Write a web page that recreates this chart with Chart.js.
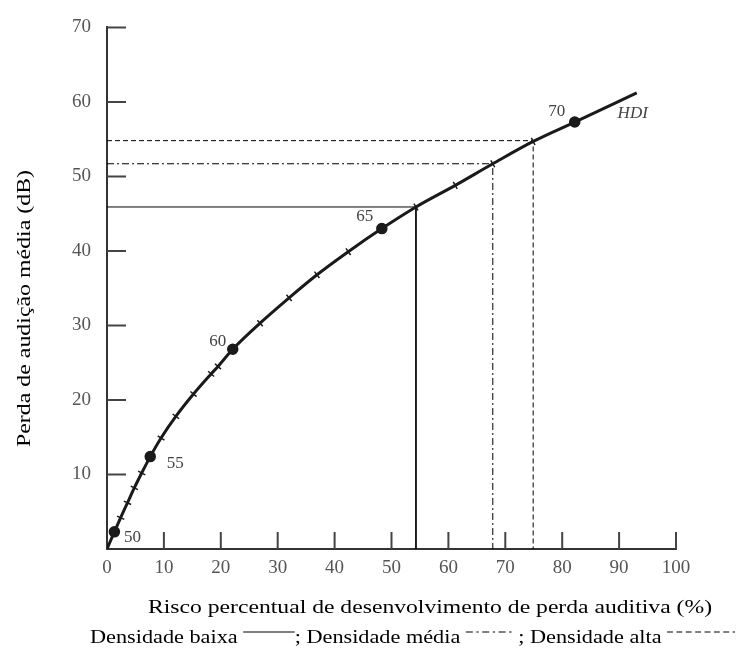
<!DOCTYPE html>
<html>
<head>
<meta charset="utf-8">
<script src="https://cdn.jsdelivr.net/npm/chart.js@4.4.1/dist/chart.umd.min.js"></script>
<style>
  html, body { margin: 0; padding: 0; background: #fff; }
  #wrap { width: 738px; height: 655px; }
</style>
</head>
<body>
<div id="wrap"><canvas id="hdi"></canvas></div>
<script>
// HDI curve: risk (%) vs average hearing loss (dB)
const riskPct     = [0, 1.3, 2.4, 3.6, 4.8, 6.1, 7.6, 9.5, 12.1, 15.2, 18.3, 19.5, 22.1, 26.9, 32.0, 36.9, 42.4, 48.3, 54.3, 61.2, 67.8, 74.9, 82.2, 93.1];
const hearingLoss = [0, 2.3, 4.2, 6.2, 8.2, 10.2, 12.4, 14.9, 17.8, 20.8, 23.5, 24.5, 26.8, 30.3, 33.7, 36.8, 39.9, 43.0, 45.9, 48.8, 51.7, 54.7, 57.3, 61.2];
const markKind    = ['none', 'dot', 'x', 'x', 'x', 'x', 'dot', 'x', 'x', 'x', 'x', 'x', 'dot', 'x', 'x', 'x', 'x', 'dot', 'x', 'x', 'x', 'x', 'dot', 'none'];

// HDI levels labelled on the curve
const levelIdx    = [1, 6, 12, 17, 22];
const levelLabels = ['50', '55', '60', '65', '70'];

// reading lines [risk %, loss dB] for each density
const lowDensity  = [54.3, 45.9];
const midDensity  = [67.8, 51.7];
const highDensity = [74.9, 54.8];

const xTicks = [0, 10, 20, 30, 40, 50, 60, 70, 80, 90, 100];
const yTicks = [10, 20, 30, 40, 50, 60, 70];

const serif = '"Liberation Serif", "Times New Roman", serif';
const ink = '#1a1a1a';

function readingLine(p) {
  return [{ x: 0, y: p[1] }, { x: p[0], y: p[1] }, { x: p[0], y: 0 }];
}

const curve = riskPct.map((x, i) => ({ x: x, y: hearingLoss[i] }));

// draw text squeezed/stretched to a given width (source image is a bit wide)
function stretchText(c, text, x, y, w) {
  const nat = c.measureText(text).width;
  c.save();
  c.translate(x, y);
  c.scale(w / nat, 1);
  c.fillText(text, 0, 0);
  c.restore();
}

const decorPlugin = {
  id: 'decor',
  afterDraw(chart) {
    const c = chart.ctx;
    const xs = chart.scales.x, ys = chart.scales.y;
    const area = chart.chartArea;

    // inward tick marks
    c.save();
    c.strokeStyle = '#444';
    c.lineWidth = 2;
    c.beginPath();
    yTicks.forEach(v => {
      const py = ys.getPixelForValue(v);
      c.moveTo(area.left, py); c.lineTo(area.left + 19, py);
    });
    xTicks.slice(1).forEach(v => {
      const px = xs.getPixelForValue(v);
      c.moveTo(px, area.bottom); c.lineTo(px, area.bottom - 17);
    });
    c.stroke();
    c.restore();

    // HDI level labels
    const meta = chart.getDatasetMeta(0);
    const offs = [[18, 6], [25, 7], [-15, -8], [-17, -12], [-18, -11]];
    c.save();
    c.font = '17px ' + serif;
    c.fillStyle = '#444';
    c.textAlign = 'center';
    c.textBaseline = 'middle';
    levelIdx.forEach((idx, k) => {
      const pt = meta.data[idx];
      c.fillText(levelLabels[k], pt.x + offs[k][0], pt.y + offs[k][1]);
    });
    const p70 = meta.data[levelIdx[4]];
    c.font = 'italic 17px ' + serif;
    c.fillText('HDI', p70.x + 58, p70.y - 9);
    c.restore();

    // axis titles
    c.save();
    c.fillStyle = '#000';
    c.font = '19px ' + serif;
    c.textBaseline = 'alphabetic';
    stretchText(c, 'Risco percentual de desenvolvimento de perda auditiva (%)', 148, 613, 564);
    c.translate(30, 447);
    c.rotate(-Math.PI / 2);
    stretchText(c, 'Perda de audição média (dB)', 0, 0, 277);
    c.restore();

    // density key line
    c.save();
    c.fillStyle = '#000';
    c.strokeStyle = '#000';
    c.lineWidth = 1;
    c.font = '19px ' + serif;
    const pieces = [
      { t: 'Densidade baixa ' }, { dash: [], len: 44 },
      { t: '; Densidade média ' }, { dash: [6, 3, 2, 3], len: 40 },
      { t: ' ; Densidade alta ' }, { dash: [5, 3], len: 58 }
    ];
    let nat = 0;
    pieces.forEach(p => { nat += p.t ? c.measureText(p.t).width : p.len; });
    c.translate(90, 643);
    c.scale(645 / nat, 1);
    let cx = 0;
    pieces.forEach(p => {
      if (p.t) {
        c.fillText(p.t, cx, 0);
        cx += c.measureText(p.t).width;
      } else {
        c.setLineDash(p.dash);
        c.beginPath();
        c.moveTo(cx, -11); c.lineTo(cx + p.len, -11);
        c.stroke();
        cx += p.len;
      }
    });
    c.restore();
  }
};

function tangentAngle(ctx) {
  const d = ctx.dataset.data, i = ctx.dataIndex;
  const a = d[Math.max(i - 1, 0)], b = d[Math.min(i + 1, d.length - 1)];
  const xs = ctx.chart.scales.x, ys = ctx.chart.scales.y;
  if (!xs || !ys) return 0;
  const dx = xs.getPixelForValue(b.x) - xs.getPixelForValue(a.x);
  const dy = ys.getPixelForValue(b.y) - ys.getPixelForValue(a.y);
  return Math.atan2(dy, dx) * 180 / Math.PI;
}

const chart = new Chart(document.getElementById('hdi'), {
  type: 'scatter',
  data: {
    datasets: [
      {
        label: 'HDI',
        data: curve,
        showLine: true,
        borderColor: ink,
        borderWidth: 3,
        cubicInterpolationMode: 'monotone',
        pointStyle: ctx => markKind[ctx.dataIndex] === 'dot' ? 'circle' : 'cross',
        pointRadius: ctx => markKind[ctx.dataIndex] === 'none' ? 0 : (markKind[ctx.dataIndex] === 'dot' ? 5 : 4),
        pointRotation: tangentAngle,
        pointBackgroundColor: ink,
        pointBorderColor: ink,
        pointBorderWidth: 1.5,
        order: 0
      },
      {
        label: 'Densidade baixa',
        data: readingLine(lowDensity),
        showLine: true, borderColor: '#000', borderWidth: 1, pointRadius: 0, order: 1
      },
      {
        label: 'Densidade média',
        data: readingLine(midDensity),
        showLine: true, borderColor: '#000', borderWidth: 1, borderDash: [7, 3, 2, 3], pointRadius: 0, order: 1
      },
      {
        label: 'Densidade alta',
        data: readingLine(highDensity),
        showLine: true, borderColor: '#000', borderWidth: 1, borderDash: [5, 3], pointRadius: 0, order: 1
      }
    ]
  },
  options: {
    responsive: true,
    maintainAspectRatio: false,
    animation: false,
    layout: { padding: { left: 0, right: 62, top: 26, bottom: 0 } },
    plugins: { legend: { display: false }, tooltip: { enabled: false } },
    scales: {
      x: {
        type: 'linear', min: 0, max: 100,
        afterFit: s => { s.height = 106; },
        afterBuildTicks: s => { s.ticks = xTicks.map(v => ({ value: v })); },
        border: { color: '#333', width: 2 },
        grid: { display: false, drawTicks: false },
        ticks: { padding: 8, color: '#555', font: { family: serif, size: 19 } }
      },
      y: {
        type: 'linear', min: 0, max: 70,
        afterFit: s => { s.width = 107; },
        afterBuildTicks: s => { s.ticks = yTicks.map(v => ({ value: v })); },
        border: { color: '#333', width: 2 },
        grid: { display: false, drawTicks: false },
        ticks: { padding: 16, color: '#555', font: { family: serif, size: 19 } }
      }
    }
  },
  plugins: [decorPlugin]
});
</script>
</body>
</html>
